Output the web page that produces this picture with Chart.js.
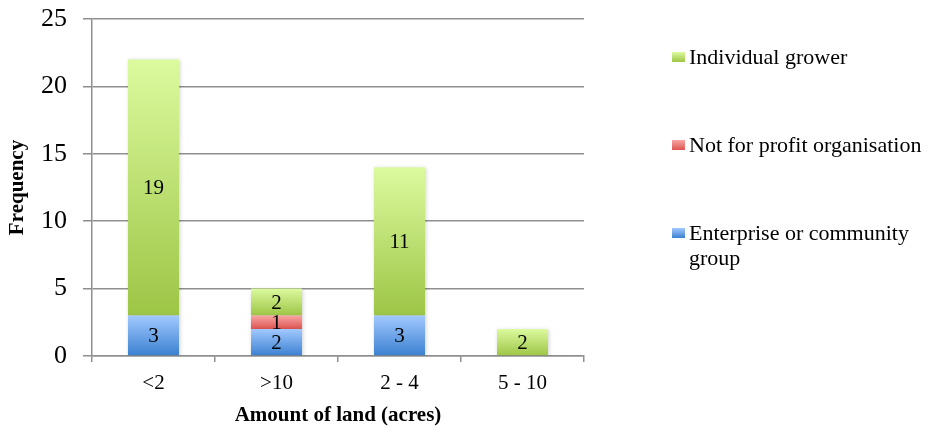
<!DOCTYPE html>
<html>
<head>
<meta charset="utf-8">
<script src="https://cdn.jsdelivr.net/npm/chart.js@4"></script>
<style>
    body { margin: 0; background: #fff; }
    #wrap { position: relative; width: 931px; height: 432px; }
    .leyenda { position: absolute; left: 672px; font-family: "Liberation Serif", serif; font-size: 22px; color: #000; line-height: 25px; }
    .leyenda .cuadro { position: absolute; left: 0; width: 13px; height: 10px; }
    .leyenda .texto { position: absolute; left: 17px; white-space: nowrap; }
</style>
</head>
<body>
<div id="wrap">
    <canvas id="grafica"></canvas>
    <div class="leyenda" style="top:44px"><div class="cuadro" style="top:8px;background:linear-gradient(#dcfa9f,#9dc545)"></div><div class="texto">Individual grower</div></div>
    <div class="leyenda" style="top:132px"><div class="cuadro" style="top:8px;background:linear-gradient(#f8a5a3,#dd5552)"></div><div class="texto">Not for profit organisation</div></div>
    <div class="leyenda" style="top:220px"><div class="cuadro" style="top:8px;background:linear-gradient(#a2c9ff,#3a80d0)"></div><div class="texto">Enterprise or community<br>group</div></div>
</div>
<script>
// ========== Datos ==========

const categorias   = ['<2', '>10', '2 - 4', '5 - 10'];
const empresa      = [3, 2, 3, 0];   // Enterprise or community group
const sinLucro     = [0, 1, 0, 0];   // Not for profit organisation
const individual   = [19, 2, 11, 2]; // Individual grower
const ticksY       = [0, 5, 10, 15, 20, 25];

const series = [empresa, sinLucro, individual];

// Colores del degradado (arriba, abajo)
const degradados = [
    ['#a2c9ff', '#3a80d0'],
    ['#f8a5a3', '#dd5552'],
    ['#dcfa9f', '#9dc545'],
];

function colorSegmento(ctx) {
    const [arriba, abajo] = degradados[ctx.datasetIndex];
    if (ctx.type !== 'data' || !ctx.chart.chartArea) return abajo;
    const y = ctx.chart.scales.y;
    let base = 0;
    for (let i = 0; i < ctx.datasetIndex; i++) base += series[i][ctx.dataIndex];
    const tope = base + series[ctx.datasetIndex][ctx.dataIndex];
    const y0 = y.getPixelForValue(tope);
    const y1 = y.getPixelForValue(base);
    if (!(y1 > y0)) return abajo;
    const g = ctx.chart.ctx.createLinearGradient(0, y0, 0, y1);
    g.addColorStop(0, arriba);
    g.addColorStop(1, abajo);
    return g;
}

// ========== Etiquetas de valores ==========

const etiquetas = {
    id: 'etiquetas',
    afterDatasetsDraw(chart) {
        const c = chart.ctx;
        c.save();
        c.font = '21px "Liberation Serif", serif';
        c.fillStyle = '#000';
        c.textAlign = 'center';
        c.textBaseline = 'middle';
        chart.data.datasets.forEach((ds, i) => {
            chart.getDatasetMeta(i).data.forEach((bar, j) => {
                const v = ds.data[j];
                if (!v) return;
                c.fillText(String(v), bar.x, (bar.y + bar.base) / 2 + 1);
            });
        });
        c.restore();
    }
};

// Sombra suave de las barras
const sombra = {
    id: 'sombra',
    beforeDatasetsDraw(chart) {
        const c = chart.ctx;
        c.save();
        c.shadowColor = 'rgba(0,0,0,0.18)';
        c.shadowBlur = 4;
        c.shadowOffsetX = 1;
        c.shadowOffsetY = 1;
    },
    afterDatasetsDraw(chart) {
        chart.ctx.restore();
    }
};

const gris = '#8f8f8f';

new Chart(document.getElementById('grafica'), {
    type: 'bar',
    data: {
        labels: categorias,
        datasets: [
            { label: 'Enterprise or community group', data: empresa },
            { label: 'Not for profit organisation', data: sinLucro },
            { label: 'Individual grower', data: individual },
        ].map(d => ({ ...d, backgroundColor: colorSegmento, borderWidth: 0, categoryPercentage: 1, barPercentage: 0.415 }))
    },
    options: {
        responsive: true,
        maintainAspectRatio: false,
        animation: false,
        layout: { padding: { top: 19, right: 347, left: 0, bottom: 0 } },
        plugins: { legend: { display: false }, tooltip: { enabled: false } },
        scales: {
            x: {
                stacked: true,
                afterFit: s => { s.height = 76; },
                grid: { offset: true, drawOnChartArea: false, color: gris, lineWidth: 1.5, tickLength: 6 },
                border: { color: gris, width: 1.5 },
                ticks: { color: '#000', padding: 9, font: { family: '"Liberation Serif", serif', size: 21 } },
                title: { display: true, text: 'Amount of land (acres)', color: '#000', padding: { top: 4, bottom: 4 },
                         font: { family: '"Liberation Serif", serif', size: 21, weight: 'bold' } }
            },
            y: {
                stacked: true,
                min: 0, max: 25,
                afterFit: s => { s.width = 92; s.paddingTop = 0; s.paddingBottom = 0; },
                afterBuildTicks: s => { s.ticks = ticksY.map(v => ({ value: v })); },
                grid: { color: gris, lineWidth: 1.5, tickLength: 9 },
                border: { color: gris, width: 1.5 },
                ticks: { color: '#000', padding: 16, font: { family: '"Liberation Serif", serif', size: 26 } },
                title: { display: true, text: 'Frequency', color: '#000', padding: { top: 5, bottom: 0 },
                         font: { family: '"Liberation Serif", serif', size: 21, weight: 'bold' } }
            }
        }
    },
    plugins: [sombra, etiquetas]
});
</script>
</body>
</html>
